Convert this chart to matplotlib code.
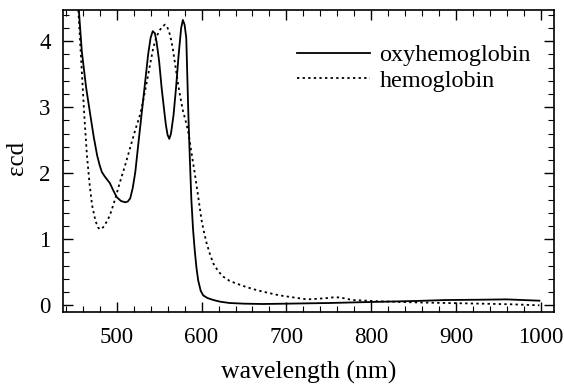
import matplotlib
matplotlib.use("Agg")
import matplotlib.pyplot as plt
from matplotlib.ticker import MultipleLocator

plt.rcParams['font.family'] = ['Liberation Serif', 'DejaVu Serif']

oxy_wl = [453, 455, 459, 464, 469, 473, 477, 480, 482.5, 486, 492, 496, 500, 505, 510, 513, 516, 519, 522, 526, 531.5, 535, 537, 540, 542.5, 545, 547, 550, 553, 556, 558, 560, 562, 564, 567, 570, 573, 576, 578, 580, 582, 584.5, 586, 588, 590, 592, 594, 596, 599, 602, 607, 614, 622, 633, 650, 672, 700, 750, 798, 850, 888, 930, 959, 998]
oxy_val = [4.9, 4.55, 3.84, 3.3, 2.88, 2.55, 2.27, 2.12, 2.02, 1.95, 1.85, 1.74, 1.64, 1.58, 1.56, 1.57, 1.62, 1.78, 2.02, 2.5, 3.14, 3.55, 3.79, 4.05, 4.15, 4.12, 3.99, 3.7, 3.29, 2.95, 2.73, 2.58, 2.52, 2.6, 2.88, 3.3, 3.79, 4.2, 4.32, 4.25, 4.05, 2.88, 2.3, 1.6, 1.15, 0.83, 0.57, 0.38, 0.22, 0.15, 0.11, 0.08, 0.055, 0.035, 0.025, 0.02, 0.025, 0.035, 0.05, 0.065, 0.08, 0.085, 0.09, 0.07]

hb_wl = [453, 455, 459, 462, 465, 468, 471, 475, 478, 480.5, 484, 488, 492, 498, 504, 510, 518, 523, 527.5, 531, 535.5, 539, 543, 547, 551, 554, 557, 560, 563, 566, 569, 572, 574.6, 578, 582.5, 585, 588, 592, 596, 600, 603, 606, 610, 614, 620, 626, 633, 641, 652, 665, 678, 692, 708, 724, 738, 748, 755, 763, 770, 778.5, 795, 810, 850, 888, 930, 966, 998]
hb_val = [4.9, 4.44, 3.53, 2.85, 2.27, 1.85, 1.52, 1.28, 1.18, 1.15, 1.18, 1.26, 1.36, 1.6, 1.87, 2.12, 2.48, 2.7, 2.88, 3.08, 3.38, 3.62, 3.89, 4.07, 4.17, 4.22, 4.25, 4.2, 4.09, 3.9, 3.64, 3.38, 3.18, 2.95, 2.73, 2.58, 2.32, 2.0, 1.65, 1.29, 1.1, 0.94, 0.77, 0.63, 0.51, 0.43, 0.37, 0.33, 0.28, 0.23, 0.19, 0.15, 0.12, 0.09, 0.1, 0.11, 0.12, 0.12, 0.1, 0.08, 0.07, 0.06, 0.045, 0.035, 0.025, 0.015, 0.0]

fig = plt.figure(figsize=(5.64, 3.87), dpi=100)
ax = fig.add_axes([0.112, 0.194, 0.870, 0.780])
ax.plot(oxy_wl, oxy_val, color='black', lw=1.3, label='oxyhemoglobin')
ax.plot(hb_wl, hb_val, color='black', lw=1.3, ls=(0, (1.3, 1.8)), label='hemoglobin')

ax.set_xlim(437, 1015)
ax.set_ylim(-0.1, 4.47)
ax.xaxis.set_major_locator(MultipleLocator(100))
ax.xaxis.set_minor_locator(MultipleLocator(20))
ax.yaxis.set_major_locator(MultipleLocator(1))
ax.yaxis.set_minor_locator(MultipleLocator(0.2))
ax.tick_params(which='both', direction='in', top=True, right=True, labelsize=16.5)
ax.tick_params(which='major', length=7, width=1)
ax.tick_params(which='minor', length=4, width=0.8)
ax.tick_params(axis='x', which='major', pad=11)
ax.tick_params(axis='y', which='major', pad=9)
for s in ax.spines.values():
    s.set_linewidth(1.2)
xl = ax.set_xlabel('wavelength (nm)', fontsize=18.5)
xl.set_va('center')
ax.xaxis.set_label_coords(0.5, -0.199)
yl = ax.set_ylabel('εcd', fontsize=18)
yl.set_va('center')
ax.yaxis.set_label_coords(-0.094, 0.51)
ax.legend(loc='upper right', frameon=False, fontsize=17.4, handlelength=3.0,
          handletextpad=0.4, borderaxespad=0.0, bbox_to_anchor=(0.973, 0.918),
          labelspacing=0.15)
fig.savefig('out.png', dpi=100)
